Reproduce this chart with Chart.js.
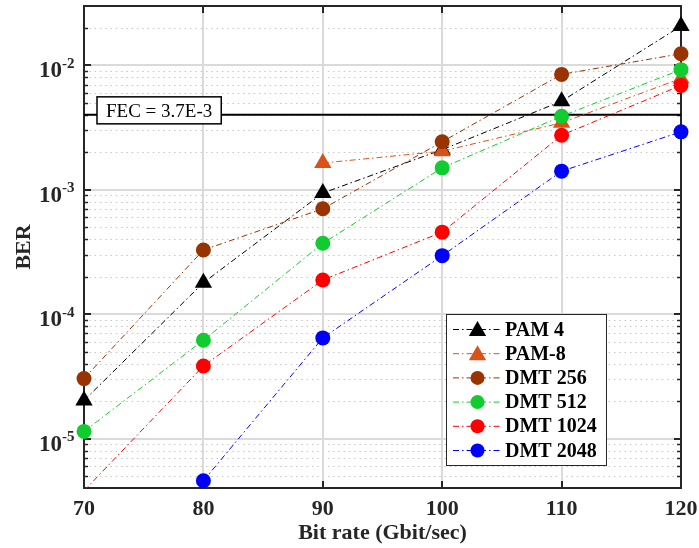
<!DOCTYPE html>
<html><head><meta charset="utf-8">
<script src="https://cdn.jsdelivr.net/npm/chart.js@4"></script>
<style>html,body{margin:0;padding:0;background:#fff;overflow:hidden}#wrap{width:699px;height:548px}</style>
</head><body><div id="wrap"><canvas id="c" width="699" height="548"></canvas></div>
<script>
const bitRates = [70, 80, 90, 100, 110, 120];
const pam4    = [2.02e-5, 1.79e-4, 9.4e-4, 2.1e-3, 5.15e-3, 2.07e-2];
const pam8    = [null, null, 1.64e-3, 2.04e-3, 3.45e-3, 7.85e-3];
const dmt256  = [3.03e-5, 3.28e-4, 7.03e-4, 2.43e-3, 8.46e-3, 1.24e-2];
const dmt512  = [1.14e-5, 6.17e-5, 3.71e-4, 1.5e-3, 3.9e-3, 9.23e-3];
const dmt1024 = [3.8e-6, 3.83e-5, 1.88e-4, 4.56e-4, 2.74e-3, 6.9e-3];
const dmt2048 = [null, 4.58e-6, 6.44e-5, 2.95e-4, 1.41e-3, 2.92e-3];
const fecLevel = 4e-3;
const fecText = 'FEC = 3.7E-3';
const seriesNames = ['PAM 4', 'PAM-8', 'DMT 256', 'DMT 512', 'DMT 1024', 'DMT 2048'];
const xTickValues = [70, 80, 90, 100, 110, 120];
const yDecades = [-2, -3, -4, -5];
const xTitle = 'Bit rate (Gbit/sec)';
const yTitle = 'BER';
const yMin = 4e-6, yMax = 3e-2;

const FONT = "'Liberation Serif', 'Times New Roman', serif";
const AX = '#262626';
const dashDot = [6, 3, 1.5, 3];

function pts(arr){ return bitRates.map((x,i)=>({x:x, y:arr[i]})); }
function mkSeries(label, arr, color, style, r, order){
  return {
    label, data: pts(arr), borderColor: color, backgroundColor: color,
    borderWidth: 1, borderDash: dashDot, pointStyle: style,
    pointRadius: ctx => (ctx.raw && ctx.raw.y != null && ctx.raw.y < yMin) ? 0 : r,
    pointBorderWidth: 0, pointBackgroundColor: color, pointBorderColor: color,
    tension: 0, order, spanGaps: false,
    clip: {left: 14, top: 14, right: 14, bottom: 0}
  };
}
const datasets = [
  mkSeries(seriesNames[0], pam4, '#000000', 'triangle', 10, 6),
  mkSeries(seriesNames[1], pam8, '#D95319', 'triangle', 10, 5),
  mkSeries(seriesNames[2], dmt256, '#993300', 'circle', 7.5, 4),
  mkSeries(seriesNames[3], dmt512, '#11CC2E', 'circle', 7.5, 3),
  mkSeries(seriesNames[4], dmt1024, '#FF0000', 'circle', 7.5, 2),
  mkSeries(seriesNames[5], dmt2048, '#0000FF', 'circle', 7.5, 1),
  { label: 'FEC', data: [{x: bitRates[0], y: fecLevel}, {x: bitRates[bitRates.length-1], y: fecLevel}],
    borderColor: '#000', borderWidth: 2, pointRadius: 0, order: 10, hideInLegend: true }
];

function drawMarker(ctx, style, x, y, r, color){
  ctx.fillStyle = color;
  ctx.beginPath();
  if (style === 'triangle') {
    let rad = 0;
    ctx.moveTo(x + Math.sin(rad)*r, y - Math.cos(rad)*r);
    rad += 2*Math.PI/3; ctx.lineTo(x + Math.sin(rad)*r, y - Math.cos(rad)*r);
    rad += 2*Math.PI/3; ctx.lineTo(x + Math.sin(rad)*r, y - Math.cos(rad)*r);
    ctx.closePath();
  } else {
    ctx.arc(x, y, r, 0, Math.PI*2);
  }
  ctx.fill();
}
function hline(ctx, x1, x2, y){ ctx.beginPath(); ctx.moveTo(x1, y); ctx.lineTo(x2, y); ctx.stroke(); }
function vline(ctx, x, y1, y2){ ctx.beginPath(); ctx.moveTo(x, y1); ctx.lineTo(x, y2); ctx.stroke(); }

const deco = {
  id: 'deco',
  beforeDatasetsDraw(chart){
    const {ctx, chartArea: a, scales: {x, y}} = chart;
    ctx.save();
    ctx.strokeStyle = '#c6c6c6'; ctx.lineWidth = 1.2; ctx.setLineDash([1.5, 3.8]);
    for (let e = -6; e <= -1; e++) for (let m = 2; m <= 9; m++) {
      const v = m * Math.pow(10, e);
      if (v <= yMin * 1.0001 || v >= yMax * 0.9999) continue;
      hline(ctx, a.left, a.right, Math.round(y.getPixelForValue(v)) + 0.5);
    }
    ctx.setLineDash([]); ctx.strokeStyle = '#dadada'; ctx.lineWidth = 2;
    yDecades.forEach(e => hline(ctx, a.left, a.right, Math.round(y.getPixelForValue(Math.pow(10, e)))));
    xTickValues.forEach(v => { if (v > x.min && v < x.max) vline(ctx, Math.round(x.getPixelForValue(v)), a.top, a.bottom); });
    ctx.strokeStyle = AX; ctx.lineWidth = 2;
    ctx.strokeRect(a.left, a.top, a.right - a.left, a.bottom - a.top);
    xTickValues.forEach(v => {
      if (v <= x.min || v >= x.max) return;
      const px = Math.round(x.getPixelForValue(v));
      vline(ctx, px, a.bottom, a.bottom - 7); vline(ctx, px, a.top, a.top + 7);
    });
    yDecades.forEach(e => {
      const py = Math.round(y.getPixelForValue(Math.pow(10, e)));
      hline(ctx, a.left, a.left + 7, py); hline(ctx, a.right, a.right - 7, py);
    });
    ctx.lineWidth = 1.5;
    for (let e = -6; e <= -1; e++) for (let m = 2; m <= 9; m++) {
      const v = m * Math.pow(10, e);
      if (v <= yMin * 1.0001 || v >= yMax * 0.9999) continue;
      const py = Math.round(y.getPixelForValue(v)) + 0.5;
      hline(ctx, a.left, a.left + 4, py); hline(ctx, a.right, a.right - 4, py);
    }
    ctx.restore();
  },
  afterDatasetsDraw(chart){
    const {ctx, chartArea: a, scales: {x, y}} = chart;
    ctx.save();
    const fy = y.getPixelForValue(fecLevel);
    ctx.font = `19px ${FONT}`;
    const tw = ctx.measureText(fecText).width;
    const bx = 97, bw = tw + 18, bh = 27;
    ctx.fillStyle = '#fff'; ctx.fillRect(bx, fy - 18, bw, bh);
    ctx.strokeStyle = '#000'; ctx.lineWidth = 1.5; ctx.strokeRect(bx, fy - 18, bw, bh);
    ctx.fillStyle = '#000'; ctx.textBaseline = 'alphabetic'; ctx.textAlign = 'left';
    ctx.fillText(fecText, bx + 9, fy + 2);
    ctx.fillStyle = AX;
    yDecades.forEach(e => {
      const py = y.getPixelForValue(Math.pow(10, e));
      ctx.font = `bold 23px ${FONT}`; ctx.textAlign = 'right';
      ctx.fillText('10', 62, py + 12);
      ctx.font = `bold 15px ${FONT}`; ctx.textAlign = 'left';
      ctx.fillText(String(e), 62, py + 2.5);
    });
    const lx = 446, ly = 314, lw = 160, lh = 151;
    ctx.fillStyle = '#fff'; ctx.fillRect(lx, ly, lw, lh);
    ctx.strokeStyle = AX; ctx.lineWidth = 1; ctx.strokeRect(lx + 0.5, ly + 0.5, lw, lh);
    let row = 0;
    chart.data.datasets.forEach(ds => {
      if (ds.hideInLegend) return;
      const cy = 329.5 + row * 24.2;
      ctx.strokeStyle = ds.borderColor; ctx.lineWidth = 1; ctx.setLineDash(dashDot);
      hline(ctx, 453, 501, cy);
      ctx.setLineDash([]);
      drawMarker(ctx, ds.pointStyle, 477.5, ds.pointStyle === 'triangle' ? cy + 1.5 : cy, ds.pointStyle === 'triangle' ? 10 : 7, ds.borderColor);
      ctx.fillStyle = '#000'; ctx.font = `bold 20px ${FONT}`; ctx.textAlign = 'left'; ctx.textBaseline = 'middle';
      ctx.fillText(ds.label, 505, cy + 1);
      ctx.textBaseline = 'alphabetic';
      row++;
    });
    ctx.restore();
  }
};

new Chart(document.getElementById('c'), {
  type: 'line',
  data: { datasets },
  plugins: [deco],
  options: {
    responsive: false, animation: false, devicePixelRatio: 1,
    layout: { autoPadding: false, padding: { top: 6, right: 18, left: 0, bottom: 0 } },
    plugins: { legend: { display: false }, tooltip: { enabled: false } },
    scales: {
      x: {
        type: 'linear', min: 70, max: 120, position: 'bottom',
        grid: { display: false, drawTicks: false }, border: { display: false },
        ticks: { stepSize: 10, padding: 8, color: AX, font: { family: FONT, size: 22, weight: 'bold' } },
        title: { display: true, text: xTitle, color: AX, font: { family: FONT, size: 22, weight: 'bold' }, padding: { top: 0, bottom: 1 } },
        afterFit: s => { s.height = 60; s.paddingLeft = 0; s.paddingRight = 0; s.paddingTop = 0; s.paddingBottom = 0; }
      },
      y: {
        type: 'logarithmic', min: yMin, max: yMax, position: 'left',
        grid: { display: false, drawTicks: false }, border: { display: false },
        ticks: { display: false },
        title: { display: true, text: yTitle, color: AX, font: { family: FONT, size: 22, weight: 'bold' }, padding: { top: 11, bottom: 0 } },
        afterFit: s => { s.width = 84; s.paddingLeft = 0; s.paddingRight = 0; s.paddingTop = 0; s.paddingBottom = 0; }
      }
    }
  }
});
</script></body></html>
